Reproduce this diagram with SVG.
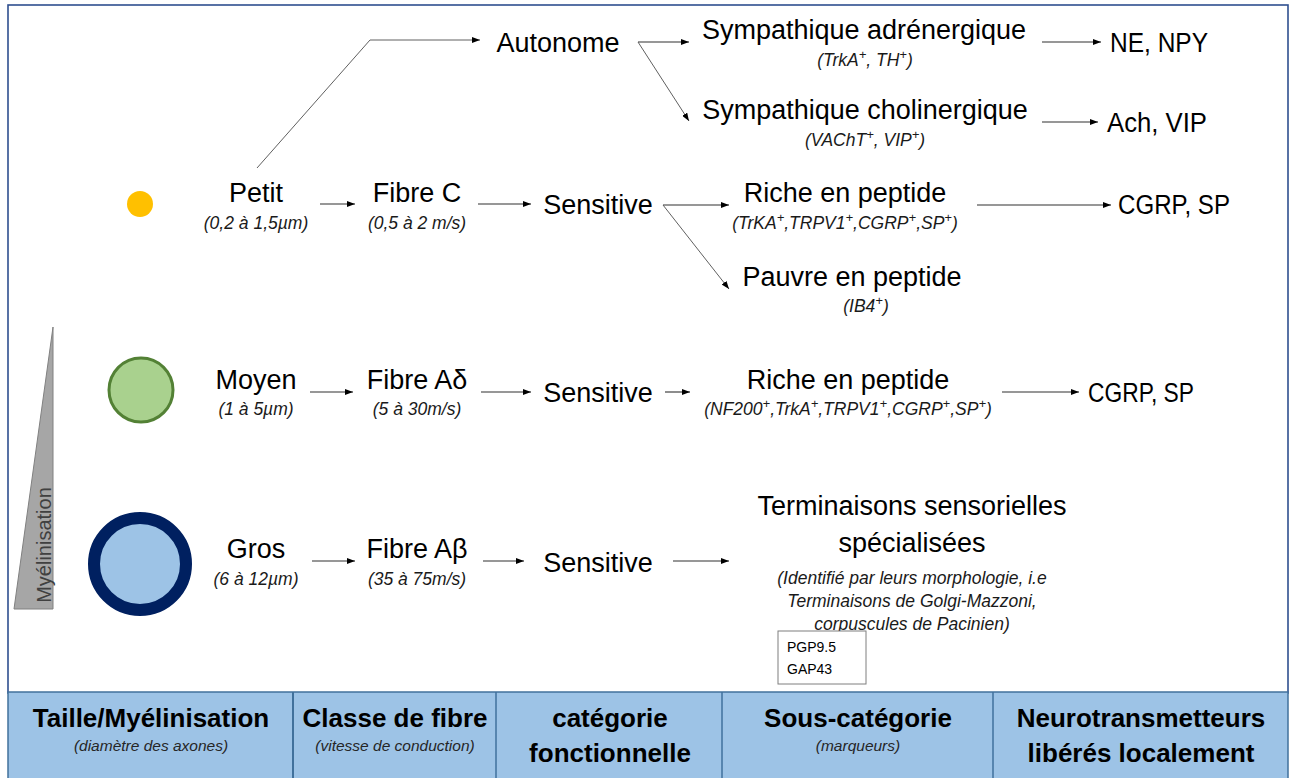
<svg xmlns="http://www.w3.org/2000/svg" width="1294" height="778" viewBox="0 0 1294 778">
<defs>
<marker id="ah" markerUnits="userSpaceOnUse" markerWidth="8" markerHeight="6" refX="8" refY="3" orient="auto">
<path d="M0,0 L8,3 L0,6 z" fill="#000"/>
</marker>
<style>
.lbl{font-family:"Liberation Sans",Arial,sans-serif;font-size:27px;fill:#000;text-anchor:middle}
.st{text-anchor:start}
.sub{font-family:"Liberation Sans",Arial,sans-serif;font-size:17.5px;font-style:italic;fill:#1a1a1a;text-anchor:middle}
.sup{font-size:13px;baseline-shift:super}
.hd{font-family:"Liberation Sans",Arial,sans-serif;font-size:26px;font-weight:bold;fill:#000;text-anchor:middle}
.hs{font-family:"Liberation Sans",Arial,sans-serif;font-size:15.5px;font-style:italic;fill:#262626;text-anchor:middle}
.ln{stroke:#303030;stroke-width:1.1;fill:none}
.dg{stroke:#606060;stroke-width:1;fill:none}
</style>
</defs>
<rect x="0" y="0" width="1294" height="778" fill="#fff"/>
<rect id="frame" x="8" y="5" width="1280" height="688" fill="#fff" stroke="#2f4f8f" stroke-width="1.6"/>

<g id="myelinisation">
<polygon points="14,609 53,609 53,327" fill="#a6a6a6" stroke="#808080" stroke-width="1"/>
<text transform="translate(51,545) rotate(-90)" font-family="Liberation Sans, Arial, sans-serif" font-size="20" fill="#404040" text-anchor="middle">Myélinisation</text>
</g>

<g id="circle-petit"><circle cx="140" cy="204" r="13" fill="#ffc000"/></g>
<g id="circle-moyen"><circle cx="141" cy="390" r="32" fill="#a9d18e" stroke="#538135" stroke-width="3"/></g>
<g id="circle-gros"><circle cx="140" cy="564" r="46" fill="#9dc3e6" stroke="#002060" stroke-width="12"/></g>

<g id="connectors">
<polyline class="dg" points="257,168 370,40 480,40" marker-end="url(#ah)"/>
<line class="ln" x1="320" y1="204" x2="355" y2="204" marker-end="url(#ah)"/>
<line class="ln" x1="478" y1="204" x2="531" y2="204" marker-end="url(#ah)"/>
<line class="ln" x1="663" y1="205" x2="729" y2="205" marker-end="url(#ah)"/>
<line class="dg" x1="663" y1="205" x2="729" y2="289" marker-end="url(#ah)"/>
<line class="ln" x1="977" y1="205" x2="1111" y2="205" marker-end="url(#ah)"/>
<line class="ln" x1="638" y1="42" x2="689" y2="42" marker-end="url(#ah)"/>
<line class="dg" x1="638" y1="42" x2="689" y2="121" marker-end="url(#ah)"/>
<line class="ln" x1="1042" y1="42" x2="1101" y2="42" marker-end="url(#ah)"/>
<line class="ln" x1="1042" y1="122" x2="1098" y2="122" marker-end="url(#ah)"/>
<line class="ln" x1="310" y1="392" x2="353" y2="392" marker-end="url(#ah)"/>
<line class="ln" x1="481" y1="392" x2="531" y2="392" marker-end="url(#ah)"/>
<line class="ln" x1="665" y1="392" x2="690" y2="392" marker-end="url(#ah)"/>
<line class="ln" x1="1002" y1="392" x2="1079" y2="392" marker-end="url(#ah)"/>
<line class="ln" x1="312" y1="561" x2="355" y2="561" marker-end="url(#ah)"/>
<line class="ln" x1="483" y1="561" x2="524" y2="561" marker-end="url(#ah)"/>
<line class="ln" x1="673" y1="561" x2="729" y2="561" marker-end="url(#ah)"/>
</g>

<g id="petit"><text class="lbl" x="256" y="202">Petit</text><text class="sub" x="256" y="229">(0,2 à 1,5µm)</text></g>
<g id="fibre-c"><text class="lbl" x="417" y="202">Fibre C</text><text class="sub" x="417" y="229">(0,5 à 2 m/s)</text></g>
<g id="sensitive-1"><text class="lbl" x="598" y="214">Sensitive</text></g>
<g id="autonome"><text class="lbl" x="558" y="52">Autonome</text></g>
<g id="symp-adr"><text class="lbl" x="864" y="39">Sympathique adrénergique</text><text class="sub" x="865" y="66">(TrkA<tspan class="sup">+</tspan>, TH<tspan class="sup">+</tspan>)</text></g>
<g id="ne-npy"><text class="lbl st" x="1110" y="52" textLength="98" lengthAdjust="spacingAndGlyphs">NE, NPY</text></g>
<g id="symp-chol"><text class="lbl" x="865" y="119">Sympathique cholinergique</text><text class="sub" x="865" y="146">(VAChT<tspan class="sup">+</tspan>, VIP<tspan class="sup">+</tspan>)</text></g>
<g id="ach-vip"><text class="lbl st" x="1107" y="132" textLength="100" lengthAdjust="spacingAndGlyphs">Ach, VIP</text></g>
<g id="riche-1"><text class="lbl" x="845" y="202">Riche en peptide</text><text class="sub" x="845" y="229">(TrKA<tspan class="sup">+</tspan>,TRPV1<tspan class="sup">+</tspan>,CGRP<tspan class="sup">+</tspan>,SP<tspan class="sup">+</tspan>)</text></g>
<g id="cgrp-sp-1"><text class="lbl st" x="1118" y="214" textLength="112" lengthAdjust="spacingAndGlyphs">CGRP, SP</text></g>
<g id="pauvre"><text class="lbl" x="852" y="286">Pauvre en peptide</text><text class="sub" x="866" y="312">(IB4<tspan class="sup">+</tspan>)</text></g>

<g id="moyen"><text class="lbl" x="256" y="389">Moyen</text><text class="sub" x="256" y="415">(1 à 5µm)</text></g>
<g id="fibre-ad"><text class="lbl" x="417" y="389">Fibre Aδ</text><text class="sub" x="417" y="415">(5 à 30m/s)</text></g>
<g id="sensitive-2"><text class="lbl" x="598" y="402">Sensitive</text></g>
<g id="riche-2"><text class="lbl" x="848" y="389">Riche en peptide</text><text class="sub" x="848" y="415">(NF200<tspan class="sup">+</tspan>,TrkA<tspan class="sup">+</tspan>,TRPV1<tspan class="sup">+</tspan>,CGRP<tspan class="sup">+</tspan>,SP<tspan class="sup">+</tspan>)</text></g>
<g id="cgrp-sp-2"><text class="lbl st" x="1088" y="402" textLength="106" lengthAdjust="spacingAndGlyphs">CGRP, SP</text></g>

<g id="gros"><text class="lbl" x="256" y="558">Gros</text><text class="sub" x="256" y="585">(6 à 12µm)</text></g>
<g id="fibre-ab"><text class="lbl" x="417" y="558">Fibre Aβ</text><text class="sub" x="417" y="585">(35 à 75m/s)</text></g>
<g id="sensitive-3"><text class="lbl" x="598" y="572">Sensitive</text></g>
<g id="terminaisons">
<text class="lbl" x="912" y="515">Terminaisons sensorielles</text>
<text class="lbl" x="912" y="552">spécialisées</text>
<text class="sub" x="912" y="584" font-size="18.6">(Identifié par leurs morphologie, i.e</text>
<text class="sub" x="912" y="607" font-size="18.6">Terminaisons de Golgi-Mazzoni,</text>
<text class="sub" x="912" y="630" font-size="18.6">corpuscules de Pacinien)</text>
</g>
<g id="markers-box">
<rect x="778" y="631" width="88" height="53" fill="#fff" stroke="#7f7f7f" stroke-width="1"/>
<text x="787" y="652" font-family="Liberation Sans, Arial, sans-serif" font-size="14" fill="#000">PGP9.5</text>
<text x="787" y="674" font-family="Liberation Sans, Arial, sans-serif" font-size="14" fill="#000">GAP43</text>
</g>

<g id="table">
<rect x="8" y="692" width="1280" height="90" fill="#9dc3e6" stroke="#41719c" stroke-width="1.5"/>
<line x1="293" y1="692" x2="293" y2="778" stroke="#41719c" stroke-width="2"/>
<line x1="496" y1="692" x2="496" y2="778" stroke="#41719c" stroke-width="1.5"/>
<line x1="722" y1="692" x2="722" y2="778" stroke="#41719c" stroke-width="1.5"/>
<line x1="993" y1="692" x2="993" y2="778" stroke="#41719c" stroke-width="1.5"/>
<g id="h1"><text class="hd" x="151" y="727">Taille/Myélinisation</text><text class="hs" x="151" y="751">(diamètre des axones)</text></g>
<g id="h2"><text class="hd" x="395" y="727">Classe de fibre</text><text class="hs" x="395" y="751">(vitesse de conduction)</text></g>
<g id="h3"><text class="hd" x="610" y="727">catégorie</text><text class="hd" x="610" y="762">fonctionnelle</text></g>
<g id="h4"><text class="hd" x="858" y="727">Sous-catégorie</text><text class="hs" x="858" y="751">(marqueurs)</text></g>
<g id="h5"><text class="hd" x="1141" y="727">Neurotransmetteurs</text><text class="hd" x="1141" y="762">libérés localement</text></g>
</g>
</svg>
